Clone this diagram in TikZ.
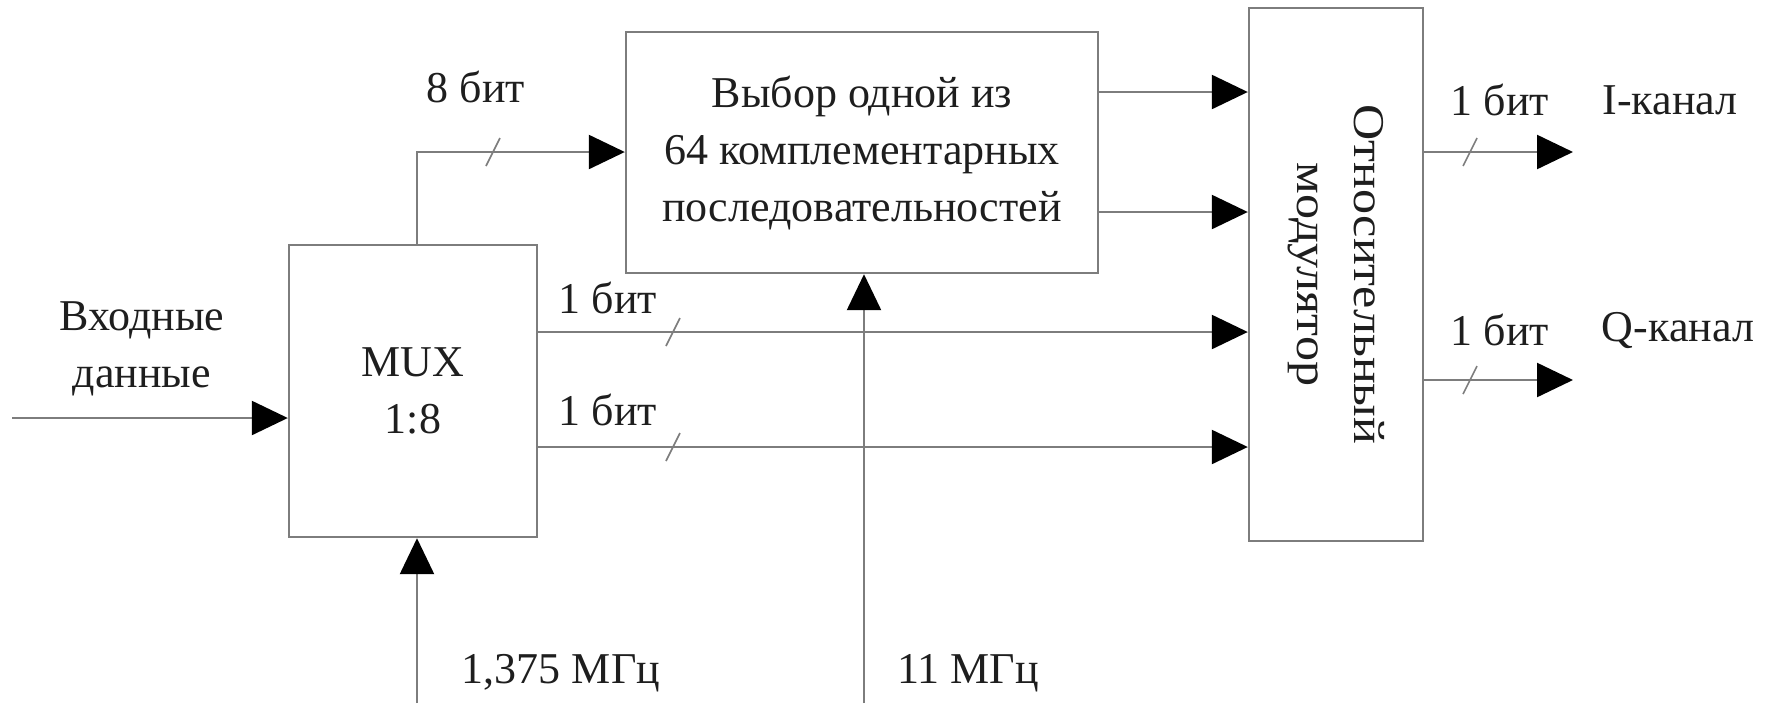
\documentclass[tikz,border=0pt]{standalone}
\usepackage{fontspec}
\setmainfont{Liberation Serif}
\usetikzlibrary{arrows.meta}
\definecolor{linec}{RGB}{125,125,125}
\definecolor{txtc}{RGB}{30,30,30}
\begin{document}
\begin{tikzpicture}[x=0.5pt,y=-0.5pt,
  every node/.style={text=txtc, font=\fontsize{22}{28.5}\selectfont},
  blk/.style={draw=linec, line width=1.2pt, inner sep=0pt, align=center},
  conn/.style={draw=linec, line width=1.2pt, -{Triangle[length=18pt,width=17pt,color=black]}},
  lbl/.style={align=center, inner sep=0pt},
  bus/.style={draw=linec, line width=0.8pt}]
\useasboundingbox (0,0) rectangle (1773,703);
% blocks
\node[blk, minimum width=124pt, minimum height=146pt] (mux) at (413,391) {MUX\\1:8};
\node[blk, minimum width=236pt, minimum height=120.5pt] (sel) at (862,152.5) {Выбор одной из\\64 комплементарных\\последовательностей};
\node[blk, minimum width=87pt, minimum height=266.5pt] (mod) at (1336,274.5) {};
\node[lbl, rotate=-90, xscale=1.14] (modt) at (mod.center) {Относительный\\модулятор};
% free ends
\coordinate (in) at (12,418);
\coordinate (clkA) at (417,703);
\coordinate (clkB) at (864,703);
\coordinate (outI) at (1573,152);
\coordinate (outQ) at (1573,380);
\coordinate (b1) at (0,332);
\coordinate (b2) at (0,447);
\coordinate (s1) at (0,92);
\coordinate (s2) at (0,212);
\coordinate (m8) at (417,152);
% connectors
\draw[conn] (in) -- (in -| mux.west);
\draw[conn] (mux.north -| m8) -- (m8) -- (m8 -| sel.west);
\draw[conn] (clkA) -- (clkA |- mux.south);
\draw[conn] (clkB) -- (clkB |- sel.south);
\draw[conn] (b1 -| mux.east) -- (b1 -| mod.west);
\draw[conn] (b2 -| mux.east) -- (b2 -| mod.west);
\draw[conn] (s1 -| sel.east) -- (s1 -| mod.west);
\draw[conn] (s2 -| sel.east) -- (s2 -| mod.west);
\draw[conn] (outI -| mod.east) -- (outI);
\draw[conn] (outQ -| mod.east) -- (outQ);
% bus slashes
\draw[bus] (486,166) -- (500,138);
\draw[bus] (666,346) -- (680,318);
\draw[bus] (666,461) -- (680,433);
\draw[bus] (1463,166) -- (1477,138);
\draw[bus] (1463,394) -- (1477,366);
% labels
\node[lbl] (lin) at (142,349) {Входные\\данные};
\node[lbl] (l8) at (476,87) {8 бит};
\node[lbl] (l1a) at (608,298) {1 бит};
\node[lbl] (l1b) at (608,410) {1 бит};
\node[lbl] (l1c) at (1500,100) {1 бит};
\node[lbl] (l1d) at (1500,330) {1 бит};
\node[lbl] (lI) at (1670,100) {I-канал};
\node[lbl] (lQ) at (1678,330) {Q-канал};
\node[lbl] (lfa) at (561,673) {1,375 МГц};
\node[lbl] (lfb) at (968,673) {11 МГц};
\end{tikzpicture}
\end{document}
